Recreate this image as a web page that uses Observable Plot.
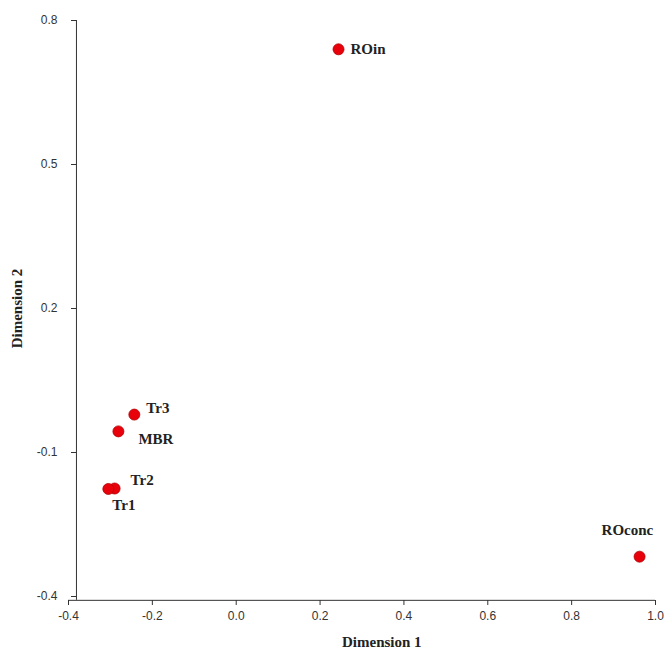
<!DOCTYPE html>
<html><head><meta charset="utf-8">
<script src="https://cdn.jsdelivr.net/npm/d3@7"></script>
<script src="https://cdn.jsdelivr.net/npm/@observablehq/plot@0.6"></script>
<style>body{margin:0;background:#fff}</style>
</head><body><div id="chart"></div>
<script>
const names = ["ROin", "Tr3", "MBR", "Tr2", "Tr1", "ROconc"]
const dim1 = [0.244, -0.243, -0.281, -0.290, -0.305, 0.962]
const dim2 = [0.74, -0.021, -0.056, -0.175, -0.176, -0.317]
const xTicks = [-0.4, -0.2, 0, 0.2, 0.4, 0.6, 0.8, 1.0]
const yTicks = [-0.4, -0.1, 0.2, 0.5, 0.8]
// label offsets per point
const dx = [12, 12, 20, 16, 4, -38]
const dy = [0, -6, 8, -8, 16, -26]

const data = names.map((n, i) => ({n, x: dim1[i], y: dim2[i], dx: dx[i], dy: dy[i]}))
const serif = "'Liberation Serif', 'DejaVu Serif', serif"

const chart = Plot.plot({
  width: 667, height: 650,
  marginLeft: 68, marginRight: 12, marginTop: 20, marginBottom: 54,
  style: {fontFamily: "'Liberation Sans', Arial, sans-serif", fontSize: "12px", color: "#333"},
  x: {domain: [-0.4, 1.0], ticks: xTicks, tickFormat: d => d.toFixed(1), label: null},
  y: {domain: [-0.4, 0.8], ticks: yTicks, tickFormat: d => d.toFixed(1), label: null},
  marks: [
    Plot.axisX({ticks: xTicks, tickFormat: d => d.toFixed(1), tickSize: 5, tickPadding: 6, anchor: "bottom", dy: 4, label: null}),
    Plot.axisY({ticks: yTicks, tickFormat: d => d.toFixed(1), tickSize: 5, tickPadding: 14, anchor: "left", dx: 8, label: null}),
    Plot.ruleY([-0.408], {x1: -0.4, x2: 1.0, stroke: "#333"}),
    Plot.ruleX([-0.381], {y1: -0.408, y2: 0.8, stroke: "#333"}),
    Plot.dot(data, {x: "x", y: "y", r: 5.5, fill: "#e8000b", stroke: "#b00000", strokeWidth: 0.8}),
    ...data.map(d => Plot.text([d], {x: "x", y: "y", text: "n", dx: d.dx, dy: d.dy, textAnchor: "start",
      fontFamily: serif, fontWeight: "bold", fontSize: 15, fill: "#222"}))
  ]
})

const wrap = d3.select("#chart").style("position", "relative")
wrap.append(() => chart)
wrap.append("div").text("Dimension 1")
  .style("position", "absolute").style("left", "342px").style("top", "634px")
  .style("font", "bold 15px " + serif).style("color", "#222")
wrap.append("div").text("Dimension 2")
  .style("position", "absolute").style("left", "-22px").style("top", "300px")
  .style("transform", "rotate(-90deg)")
  .style("font", "bold 15px " + serif).style("color", "#222")
</script>
</body></html>
